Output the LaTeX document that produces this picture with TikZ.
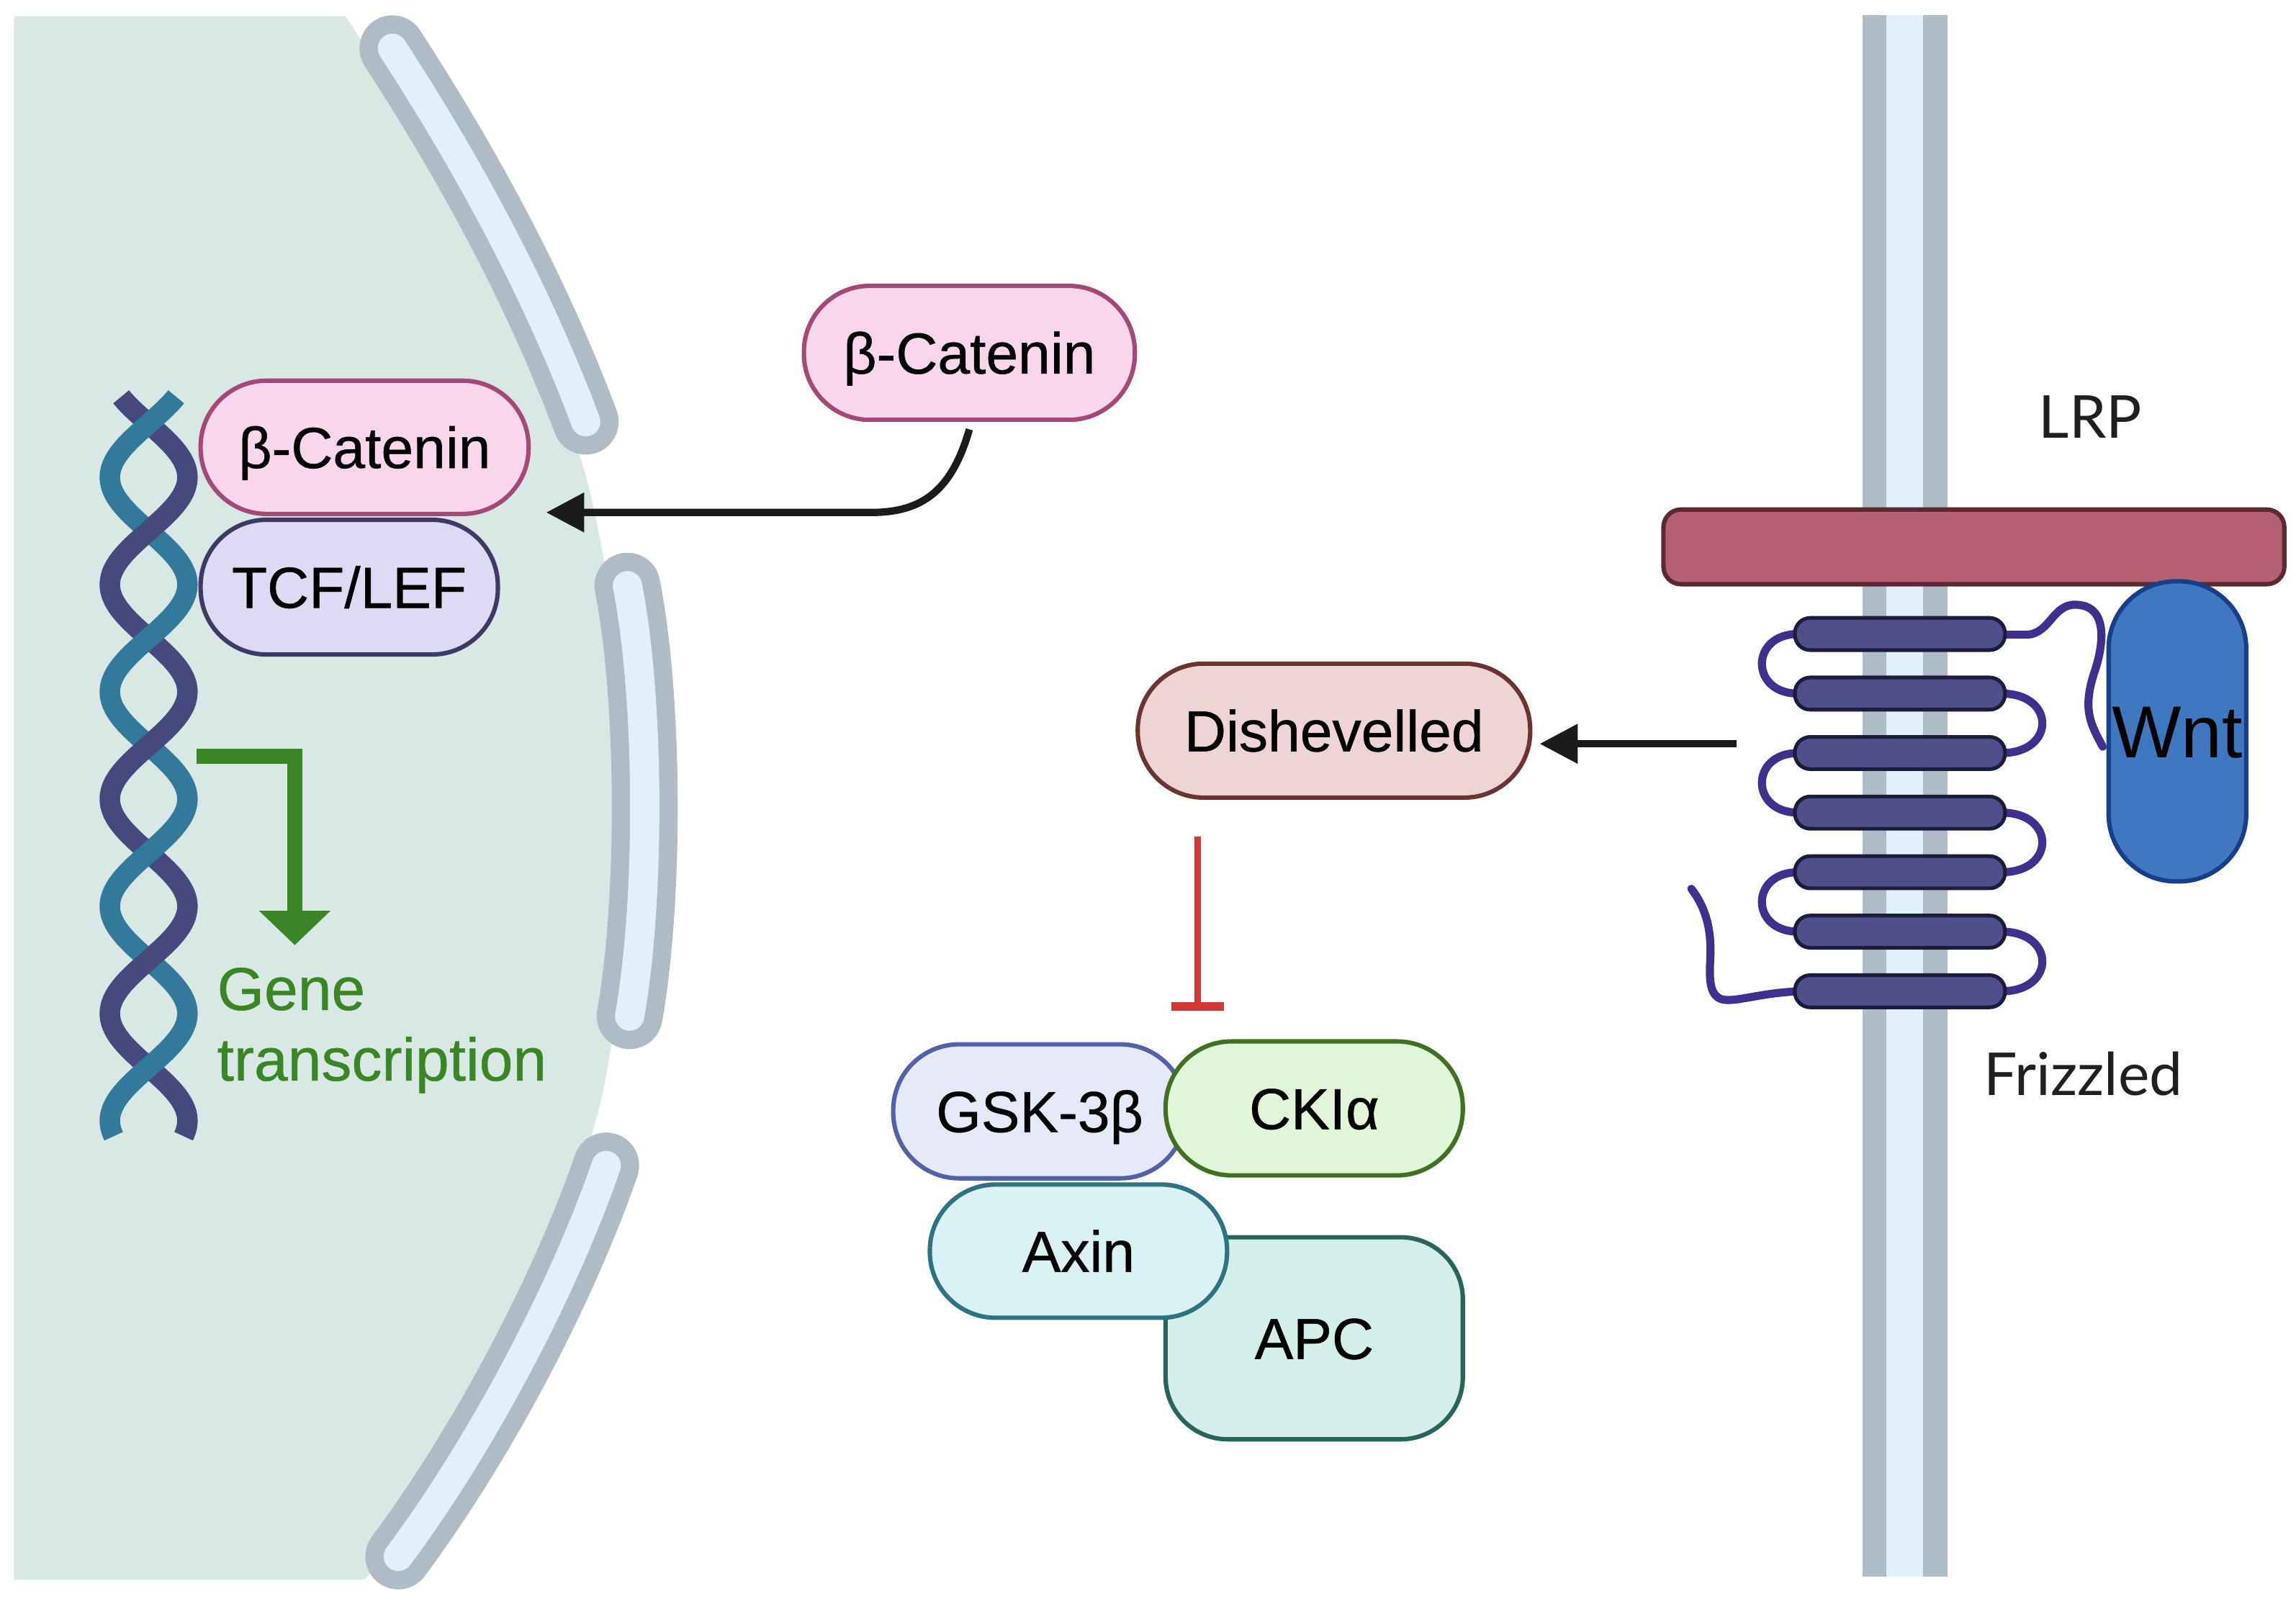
\documentclass[tikz,border=0pt]{standalone}
\usepackage{fontspec}
\setmainfont{Liberation Sans}
\newfontfamily\latofont{Lato}
\newfontfamily\protfam{Liberation Sans}[BoldFont={Liberation Sans}, BoldFeatures={FakeBold=0.6}]
\usetikzlibrary{arrows.meta}

\definecolor{nucfill}{HTML}{D9E8E4}
\definecolor{memgrey}{HTML}{AFBCC8}
\definecolor{memlight}{HTML}{E0F0FD}
\definecolor{dnadark}{HTML}{46497E}
\definecolor{dnateal}{HTML}{33799B}
\definecolor{genegreen}{HTML}{3A8526}
\definecolor{arrblack}{HTML}{1B1B1B}
\definecolor{inhred}{HTML}{CF3A36}
\definecolor{bcatfill}{HTML}{F8D7EC}
\definecolor{bcatdraw}{HTML}{A4487A}
\definecolor{tcffill}{HTML}{DCDBF3}
\definecolor{tcfdraw}{HTML}{3E3A68}
\definecolor{dvlfill}{HTML}{EED4D4}
\definecolor{dvldraw}{HTML}{6A3530}
\definecolor{gskfill}{HTML}{E5E9FA}
\definecolor{gskdraw}{HTML}{5261A8}
\definecolor{ckfill}{HTML}{E1F5D9}
\definecolor{ckdraw}{HTML}{3F7024}
\definecolor{axinfill}{HTML}{DAF1F6}
\definecolor{axindraw}{HTML}{2F7282}
\definecolor{apcfill}{HTML}{D4EEE9}
\definecolor{apcdraw}{HTML}{28635E}
\definecolor{lrpfill}{HTML}{B46173}
\definecolor{lrpdraw}{HTML}{5B2833}
\definecolor{fzfill}{HTML}{4F4F8B}
\definecolor{fzdraw}{HTML}{1C1B3B}
\definecolor{fzline}{HTML}{40308E}
\definecolor{wntfill}{HTML}{3F77C1}
\definecolor{wntdraw}{HTML}{173F87}

\newcommand\protfont{\protfam\bfseries\fontsize{22.5pt}{27pt}\selectfont}
\newcommand\memseg[1]{\draw[memout] #1; \draw[memin] #1;}

\tikzset{
  memout/.style={line width=9mm, line cap=round, draw=memgrey},
  memin/.style={line width=4mm, line cap=round, draw=memlight},
  prot/.style={draw, line width=0.6mm, rounded corners=9mm, minimum height=18.3mm,
    inner sep=0pt, text height=16.1pt, text depth=0pt, font=\protfont, text=black},
  dnastrand/.style={line width=2.8mm},
  barr/.style={draw=arrblack, line width=1mm, -{Triangle[length=5.2mm,width=5.2mm]}},
  garr/.style={draw=genegreen, line width=2mm, line join=miter, -{Triangle[length=4.7mm,width=9.5mm]}},
  inh/.style={draw=inhred, line width=0.9mm},
  inhbar/.style={draw=inhred, line width=1.15mm},
  fzbar/.style={draw=fzdraw, fill=fzfill, line width=0.5mm, rounded corners=2.1mm,
    minimum width=28.7mm, minimum height=4.4mm, inner sep=0pt},
  fzloop/.style={draw=fzline, line width=1.1mm, line cap=round},
  lbl/.style={font=\latofont\fontsize{23pt}{27pt}\selectfont, text=black!88, inner sep=0pt,
    text height=16.5pt, text depth=0pt},
}

\begin{document}
\begin{tikzpicture}[x=0.2mm, y=-0.2mm]
\useasboundingbox (0,0) rectangle (1568,1095.4);
\fill[white] (0,0) rectangle (1568,1095.4);

% ---------- nucleus ----------
\fill[nucfill] (9.5,11) -- (236,11) .. controls (300,110) and (385,250) .. (405,345)
  .. controls (430,460) and (440,600) .. (412,745)
  .. controls (380,880) and (310,1000) .. (249,1079) -- (9.5,1079) -- cycle;

\memseg{(268,33) .. controls (318,110) and (365,195) .. (400,288)}
\memseg{(428.5,400) .. controls (444,480) and (444,615) .. (430,694)}
\memseg{(414,796) .. controls (385,880) and (330,985) .. (272,1063)}

% ---------- DNA ----------
\draw[dnastrand, draw=dnadark] plot[domain=271:776, samples=260, smooth]
  ({101.5+26.5*cos(2.45734*(\x-326))}, \x);
\draw[dnastrand, draw=dnateal] plot[domain=271:776, samples=260, smooth]
  ({101.5-26.5*cos(2.45734*(\x-326))}, \x);
\foreach \c in {362.6,509.1,655.6}{
  \draw[dnastrand, draw=dnadark] plot[domain=\c-30:\c+30, samples=60, smooth]
    ({101.5+26.5*cos(2.45734*(\x-326))}, \x);
}

% gene transcription arrow
\coordinate (dnaOut) at (134,516.6);
\coordinate (geneTip) at (201.3,645.5);
\draw[garr] (dnaOut) -| (geneTip);
\node[anchor=base west, inner sep=0pt, align=left, text=genegreen,
  font=\protfam\bfseries\fontsize{23.5pt}{27.45pt}\selectfont] (gene) at (148,738) {Gene\\transcription};

% nuclear complex
\node[prot, fill=bcatfill, draw=bcatdraw, minimum width=44.8mm, minimum height=18.2mm] (bcatN) at (249,305.5) {β-Catenin};
\node[prot, fill=tcffill, draw=tcfdraw, minimum width=40.6mm, minimum height=18.4mm] (tcf) at (238.5,401) {TCF/LEF};

% ---------- right membrane ----------
\fill[memgrey] (1272,10.3) rectangle (1330,1076.7);
\fill[memlight] (1288,10.3) rectangle (1313.5,1076.7);

% Frizzled
\foreach \i/\y in {1/433,2/473.7,3/514.3,4/555,5/595.7,6/636.3,7/677}{
  \coordinate (fzc\i) at (1297.5,\y);
}
\foreach \a/\b in {1/2,3/4,5/6}{
  \draw[fzloop] ([xshift=0.4mm]fzc\a -| 1226,0) .. controls +(-6.6mm,0) and +(-6.6mm,0) .. ([xshift=0.4mm]fzc\b -| 1226,0);
}
\foreach \a/\b in {2/3,4/5,6/7}{
  \draw[fzloop] ([xshift=-0.4mm]fzc\a -| 1369,0) .. controls +(7.4mm,0) and +(7.4mm,0) .. ([xshift=-0.4mm]fzc\b -| 1369,0);
}
\draw[fzloop] (1366,433.5) -- (1385,433.5) .. controls (1400,432) and (1402,413) .. (1417,413)
  .. controls (1440,413) and (1437,440) .. (1430,460) .. controls (1422,485) and (1428,495) .. (1436,510);
\draw[fzloop] (1229,677) .. controls (1205,678) and (1190,683) .. (1180,683)
  .. controls (1168,683) and (1167,672) .. (1168,655) .. controls (1169,635) and (1165,620) .. (1155,607);
\foreach \i in {1,...,7}{
  \node[fzbar] (fz\i) at (fzc\i) {};
}

% LRP
\node[draw=lrpdraw, fill=lrpfill, line width=0.6mm, rounded corners=2.4mm,
  minimum width=84.8mm, minimum height=10.2mm, inner sep=0pt] (lrp) at (1348,373.5) {};

% Wnt
\node[draw=wntdraw, fill=wntfill, line width=0.6mm, rounded corners=9.2mm,
  minimum width=18.8mm, minimum height=41mm, inner sep=0pt,
  font=\fontsize{28.6pt}{32pt}\selectfont, text height=20.5pt, text depth=0pt] (wnt) at (1487,499.5) {Wnt};

\node[lbl] (lrplbl) at (1427.5,284.8) {LRP};
\node[lbl] (fzlbl) at (1422.7,733.5) {Frizzled};

% ---------- cytoplasm ----------
\node[prot, fill=bcatfill, draw=bcatdraw, minimum width=45.2mm] (bcatC) at (662,241) {β-Catenin};
\coordinate (nucIn) at (373,350);
\draw[barr] ([yshift=-1mm]bcatC.south) .. controls (650,335) and (630,350) .. (595,350) -- (nucIn);

\node[prot, fill=dvlfill, draw=dvldraw, minimum width=53.6mm] (dvl) at (911,499) {Dishevelled};
\coordinate (fzL) at (1186,508);
\path (dvl.east |- fzL) ++(5,0) coordinate (dvlIn);
\draw[barr] (fzL) -- (dvlIn);

% destruction complex
\node[prot, fill=apcfill, draw=apcdraw, minimum width=40.6mm, minimum height=27.6mm, rounded corners=8.5mm] (apc) at (897.5,914) {APC};
\node[prot, fill=axinfill, draw=axindraw, minimum width=40.6mm, minimum height=18.2mm] (axin) at (736.5,854.5) {Axin};
\node[prot, fill=gskfill, draw=gskdraw, minimum width=40mm] (gsk) at (710,759) {GSK-3β};
\node[prot, fill=ckfill, draw=ckdraw, minimum width=40.6mm] (ck) at (897.5,757) {CKIα};

% inhibition
\coordinate (inhTop) at (818,571.5);
\coordinate (inhBot) at (818,687.3);
\draw[inh] (inhTop) -- (inhBot);
\draw[inhbar] ([xshift=-3.6mm]inhBot) -- ([xshift=3.6mm]inhBot);
\end{tikzpicture}
\end{document}
